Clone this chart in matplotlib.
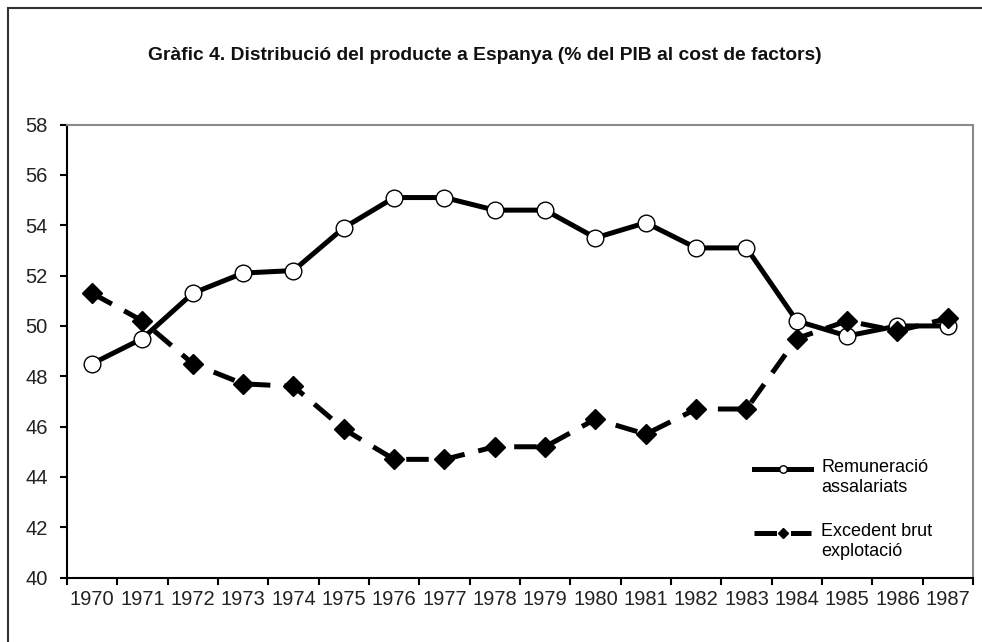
import matplotlib.pyplot as plt
import matplotlib.patches as mpatches

plt.rcParams['font.family'] = ['Liberation Sans', 'DejaVu Sans']

# --- dades ---
anys = [str(a) for a in range(1970, 1988)]
remuneracio = [48.5, 49.5, 51.3, 52.1, 52.2, 53.9, 55.1, 55.1, 54.6,
               54.6, 53.5, 54.1, 53.1, 53.1, 50.2, 49.6, 50.0, 50.0]
excedent = [51.3, 50.2, 48.5, 47.7, 47.6, 45.9, 44.7, 44.7, 45.2,
            45.2, 46.3, 45.7, 46.7, 46.7, 49.5, 50.2, 49.8, 50.3]
etiquetes = ["Remuneració\nassalariats", "Excedent brut\nexplotació"]
titol = "Gràfic 4. Distribució del producte a Espanya (% del PIB al cost de factors)"

fig = plt.figure(figsize=(9.82, 6.42), dpi=100)
ax = fig.add_axes([0.0682, 0.1002, 0.9226, 0.7058])

x = list(range(len(anys)))
ax.plot(x, remuneracio, color="black", lw=3.6, marker="o", ms=12,
        mfc="white", mec="black", mew=1.0, label=etiquetes[0], zorder=3)
ax.plot(x, excedent, color="black", lw=3.6, ls=(0, (4.5, 2.8)), marker="D",
        ms=10.5, mfc="black", mec="black", label=etiquetes[1], zorder=4)

# eixos estil Excel
ax.set_xlim(-0.5, len(anys) - 0.5)
ax.set_ylim(40, 58)
ax.set_yticks(range(40, 59, 2))
ax.set_xticks([i - 0.5 for i in range(len(anys) + 1)])
ax.set_xticklabels([])
ax.set_xticks(x, minor=True)
ax.set_xticklabels(anys, minor=True)
ax.tick_params(axis="x", which="major", direction="out", length=5, width=1.5)
ax.tick_params(axis="x", which="minor", length=0, pad=9, labelsize=14.5,
               labelcolor="#222222")
ax.tick_params(axis="y", direction="out", length=5, width=1.5, pad=9,
               labelsize=14.5, labelcolor="#222222")
for s in ["left", "bottom"]:
    ax.spines[s].set_linewidth(1.5)
for s in ["top", "right"]:
    ax.spines[s].set_color("#8a8a8a")
    ax.spines[s].set_linewidth(1.5)

leg = ax.legend(loc="upper left", bbox_to_anchor=(0.740, 0.308), frameon=False,
                fontsize=13, handlelength=3.2, handletextpad=0.55,
                handleheight=3.85, labelspacing=0.79, markerscale=0.45)

fig.text(0.494, 0.914, titol, ha="center", va="center", fontsize=13.9,
         fontweight="bold", color="#111111")

# marc del gràfic
fig.patches.append(mpatches.Rectangle((8 / 982, -0.1), 1.1, 1.1 - 8 / 642,
                                      transform=fig.transFigure, fill=False,
                                      edgecolor="#333333", lw=1.5))

fig.savefig("out.png", dpi=100)
